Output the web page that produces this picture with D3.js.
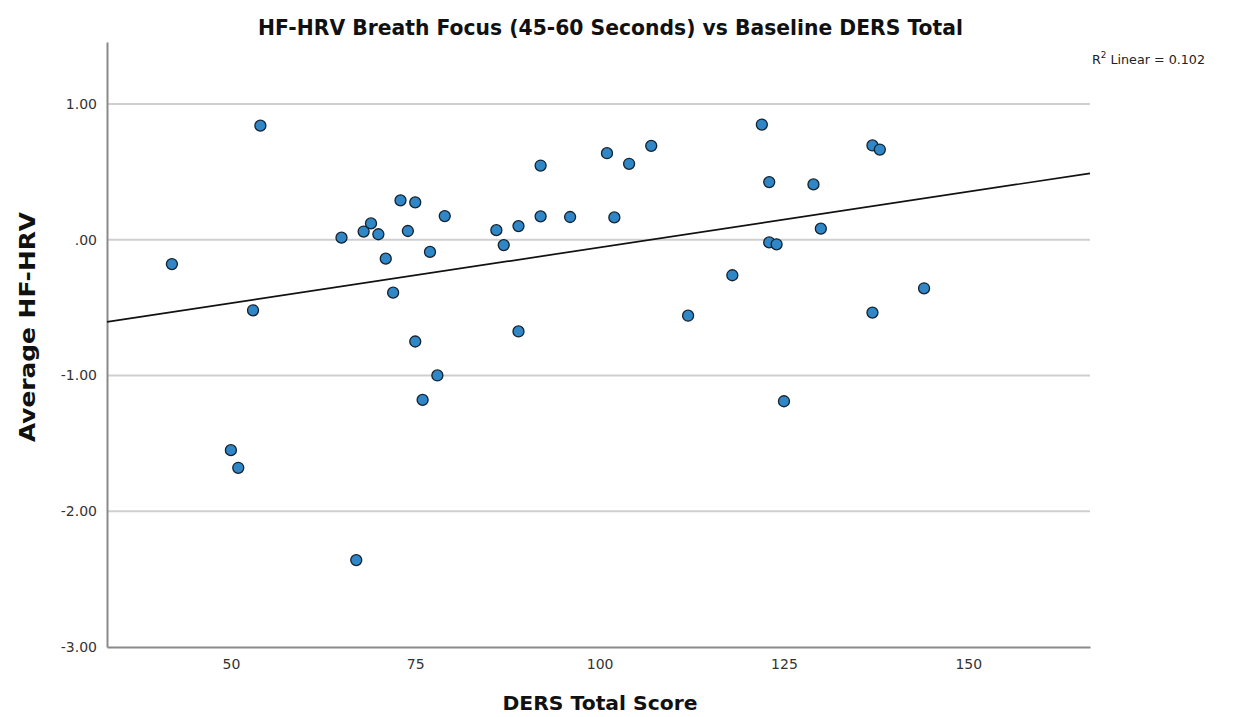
<!DOCTYPE html>
<html>
<head>
<meta charset="utf-8">
<script src="https://cdn.jsdelivr.net/npm/d3@7"></script>
<style>
  html, body { margin: 0; padding: 0; background: #fff; }
  svg { display: block; }
</style>
</head>
<body>
<svg id="chart" width="1236" height="717"></svg>
<script>
// ---- data ----
const dersTotal = [42, 54, 53, 50, 51, 65, 68, 69, 70, 71, 72, 73, 75, 74, 77, 79, 75, 78, 76, 67,
                   86, 87, 89, 92, 92, 96, 101, 102, 104, 107, 89, 112, 118, 122, 123, 123, 124, 129,
                   130, 137, 138, 137, 144, 125];
const avgHfHrv  = [-0.18, 0.84, -0.52, -1.55, -1.68, 0.015, 0.06, 0.12, 0.04, -0.14, -0.39, 0.29, 0.275, 0.064,
                   -0.09, 0.174, -0.75, -1.0, -1.18, -2.36,
                   0.07, -0.04, 0.10, 0.546, 0.172, 0.167, 0.637, 0.164, 0.559, 0.691, -0.676, -0.56, -0.262,
                   0.848, 0.424, -0.02, -0.034, 0.407, 0.081, 0.694, 0.664, -0.537, -0.358, -1.19];
const xTicks = [50, 75, 100, 125, 150];
const yTicks = [1, 0, -1, -2, -3];
const yTickLabels = ["1.00", ".00", "-1.00", "-2.00", "-3.00"];
const titleText = "HF-HRV Breath Focus (45-60 Seconds) vs Baseline DERS Total";
const xLabel = "DERS Total Score";
const yLabel = "Average HF-HRV";
const r2Text = "0.102";

// ---- layout ----
const svg = d3.select("#chart");
const plotL = 107, plotR = 1090, plotT = 42, plotB = 647;
const x = d3.scaleLinear().domain([33.2, 166.5]).range([plotL, plotR]);
const y = d3.scaleLinear().domain([-3, 1.456]).range([plotB, plotT]);
const font = "'DejaVu Sans', 'Noto Sans', sans-serif";

// gridlines
svg.append("g").selectAll("line").data(yTicks.filter(v => v !== -3)).join("line")
  .attr("x1", plotL).attr("x2", plotR)
  .attr("y1", d => y(d)).attr("y2", d => y(d))
  .attr("stroke", "#cfcfcf").attr("stroke-width", 2);

// axes
const yAxis = d3.axisLeft(y).tickValues(yTicks).tickSize(0).tickPadding(10)
  .tickFormat((d, i) => yTickLabels[i]);
const gy = svg.append("g").attr("transform", `translate(${plotL},0)`).call(yAxis);
gy.select(".domain").attr("stroke", "#8a8a8a").attr("stroke-width", 2);
gy.selectAll("text").attr("font-family", font).attr("font-size", 14).attr("fill", "#333");

const xAxis = d3.axisBottom(x).tickValues(xTicks).tickSize(0).tickPadding(12);
const gx = svg.append("g").attr("transform", `translate(0,${plotB})`).call(xAxis);
gx.select(".domain").attr("stroke", "#8a8a8a").attr("stroke-width", 2);
gx.selectAll("text").attr("font-family", font).attr("font-size", 14).attr("fill", "#333");

// regression line (least squares fit of the data)
const n = dersTotal.length;
const mx = d3.mean(dersTotal), my = d3.mean(avgHfHrv);
let sxy = 0, sxx = 0;
for (let i = 0; i < n; i++) { sxy += (dersTotal[i]-mx)*(avgHfHrv[i]-my); sxx += (dersTotal[i]-mx)**2; }
const slope = sxy / sxx, intercept = my - slope * mx;
const xd = x.domain();
svg.append("line")
  .attr("x1", x(xd[0])).attr("y1", y(intercept + slope * xd[0]))
  .attr("x2", x(xd[1])).attr("y2", y(intercept + slope * xd[1]))
  .attr("stroke", "#111").attr("stroke-width", 1.7);

// points
svg.append("g").selectAll("circle").data(dersTotal.map((d, i) => [d, avgHfHrv[i]])).join("circle")
  .attr("cx", d => x(d[0])).attr("cy", d => y(d[1])).attr("r", 5.5)
  .attr("fill", "#2f87c8").attr("stroke", "#15222e").attr("stroke-width", 1.3);

// title
svg.append("text").attr("x", 610.5).attr("y", 35).attr("text-anchor", "middle")
  .attr("font-family", font).attr("font-weight", "bold").attr("font-size", 21).attr("fill", "#111")
  .attr("textLength", 705).attr("lengthAdjust", "spacingAndGlyphs")
  .text(titleText);

// x label
svg.append("text").attr("x", 600).attr("y", 710).attr("text-anchor", "middle")
  .attr("font-family", font).attr("font-weight", "bold").attr("font-size", 20).attr("fill", "#111")
  .attr("textLength", 195).attr("lengthAdjust", "spacingAndGlyphs")
  .text(xLabel);

// y label
svg.append("text").attr("transform", "translate(35,327) rotate(-90)").attr("text-anchor", "middle")
  .attr("font-family", font).attr("font-weight", "bold").attr("font-size", 22).attr("fill", "#111")
  .attr("textLength", 230).attr("lengthAdjust", "spacingAndGlyphs")
  .text(yLabel);

// R^2 label
const r2 = svg.append("text").attr("x", 1092).attr("y", 64)
  .attr("font-family", font).attr("font-size", 13).attr("fill", "#222")
  .attr("textLength", 113).attr("lengthAdjust", "spacingAndGlyphs");
r2.append("tspan").text("R");
r2.append("tspan").attr("dy", -6).attr("font-size", 9).text("2");
r2.append("tspan").attr("dy", 6).text(" Linear = " + r2Text);
</script>
</body>
</html>
